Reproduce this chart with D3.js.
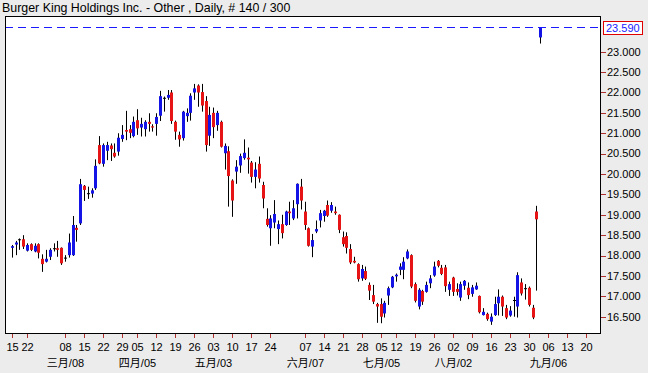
<!DOCTYPE html>
<html>
<head>
<meta charset="utf-8">
<script src="https://cdn.jsdelivr.net/npm/d3@7"></script>
<style>
  body { margin: 0; background: #ececec; }
  svg { display: block; font-family: "Liberation Sans", Arial, sans-serif; }
</style>
</head>
<body>
<div id="chart"></div>
<script>
// daily candles, Feb 16 .. Sep 2 2010 (blue = up, red = down)
const opens = [
  18.19, 18.27, 18.40, 18.40, 18.12, 18.28, 18.10, 18.28, 17.92, 17.85,
  17.97, 18.18, 18.18, 18.19, 17.95, 18.01, 18.01, 18.68, 18.79, 19.71,
  19.53, 19.52, 19.65, 20.71, 20.25, 20.57, 20.70, 20.52, 20.55, 20.86,
  21.08, 21.10, 20.93, 21.32, 21.14, 21.10, 21.28, 21.17, 21.23, 21.43,
  21.87, 21.87, 22.00, 21.28, 20.96, 20.88, 21.42, 21.50, 22.00, 22.17,
  22.01, 21.79, 20.94, 21.50, 21.20, 21.28, 20.51, 20.56, 19.84, 20.06,
  20.21, 20.39, 20.40, 20.28, 19.93, 20.25, 19.73, 18.90, 18.67, 18.81,
  18.65, 18.77, 18.75, 19.08, 18.91, 19.26, 19.69, 19.08, 18.67, 18.22,
  18.59, 18.86, 18.97, 19.24, 19.10, 19.08, 19.00, 18.45, 18.48, 18.16,
  17.87, 17.79, 17.44, 17.62, 17.28, 17.03, 16.81, 16.81, 16.58, 17.02,
  17.22, 17.49, 17.65, 17.65, 17.93, 18.01, 17.30, 16.75, 17.13, 17.11,
  17.32, 17.51, 17.87, 17.70, 17.71, 17.16, 17.46, 17.18, 16.97, 17.26,
  17.21, 17.06, 17.17, 17.01, 16.54, 16.57, 16.38, 16.54, 16.83, 16.99,
  16.71, 16.53, 16.91, 16.75, 17.34, 17.20, 17.21, 16.72, 19.08, 23.35
]
const highs = [
  18.26, 18.36, 18.42, 18.50, 18.30, 18.30, 18.30, 18.30, 18.03, 18.14,
  18.18, 18.30, 18.36, 18.20, 18.01, 18.54, 18.97, 18.75, 19.88, 19.73,
  19.69, 19.65, 20.36, 20.93, 20.75, 20.79, 20.75, 20.75, 21.00, 21.20,
  21.55, 21.20, 21.41, 21.59, 21.38, 21.32, 21.49, 21.22, 21.49, 22.04,
  21.90, 22.06, 22.06, 21.31, 21.04, 21.55, 21.61, 21.98, 22.21, 22.20,
  22.21, 21.91, 21.65, 21.63, 21.55, 21.31, 20.75, 20.68, 19.87, 20.34,
  20.50, 20.85, 20.65, 20.32, 20.29, 20.43, 19.81, 19.16, 18.99, 19.36,
  18.86, 19.00, 19.10, 19.32, 19.36, 19.77, 19.88, 19.32, 18.69, 18.53,
  18.86, 19.12, 19.12, 19.35, 19.31, 19.20, 19.01, 18.59, 18.57, 18.28,
  17.97, 17.81, 17.77, 17.73, 17.34, 17.28, 16.84, 16.95, 16.89, 17.24,
  17.50, 17.56, 17.81, 17.96, 18.15, 18.03, 17.34, 17.20, 17.16, 17.36,
  17.52, 17.85, 17.89, 17.77, 17.77, 17.36, 17.48, 17.32, 17.36, 17.40,
  17.34, 17.28, 17.34, 17.02, 16.71, 16.60, 16.58, 16.99, 17.17, 17.02,
  16.79, 16.76, 16.99, 17.59, 17.44, 17.30, 17.24, 16.79, 19.22, 23.59
]
const lows = [
  17.95, 18.01, 18.14, 18.16, 18.10, 18.11, 18.08, 17.93, 17.60, 17.83,
  17.89, 18.10, 17.97, 17.77, 17.85, 17.95, 17.99, 18.34, 18.75, 19.34,
  19.39, 19.42, 19.61, 20.24, 20.18, 20.34, 20.32, 20.40, 20.45, 20.79,
  20.83, 20.88, 20.90, 20.96, 20.92, 20.92, 21.04, 21.04, 20.94, 21.30,
  21.53, 21.82, 21.23, 20.84, 20.67, 20.82, 21.28, 21.31, 21.82, 21.65,
  21.53, 20.55, 20.69, 20.88, 21.06, 20.65, 20.11, 19.20, 18.95, 19.76,
  20.03, 20.35, 20.01, 19.79, 19.65, 19.79, 19.16, 18.71, 18.24, 18.67,
  18.28, 18.42, 18.73, 18.75, 18.87, 18.91, 19.13, 18.63, 18.22, 17.96,
  18.55, 18.69, 18.83, 18.95, 19.05, 19.00, 18.55, 18.22, 18.05, 17.79,
  17.81, 17.36, 17.38, 17.40, 16.91, 16.81, 16.35, 16.34, 16.48, 16.79,
  17.20, 17.36, 17.52, 17.42, 17.91, 17.20, 16.85, 16.68, 16.79, 17.09,
  17.20, 17.48, 17.71, 17.52, 17.11, 17.01, 17.01, 17.02, 16.89, 17.16,
  16.93, 16.99, 17.16, 16.58, 16.53, 16.40, 16.30, 16.52, 16.53, 16.52,
  16.44, 16.50, 16.50, 16.48, 17.02, 16.92, 16.75, 16.44, 17.14, 23.20
]
const closes = [
  18.23, 18.32, 18.40, 18.22, 18.26, 18.14, 18.24, 18.07, 17.79, 17.92,
  18.14, 18.18, 18.14, 17.81, 17.95, 18.32, 18.75, 18.63, 19.75, 19.61,
  19.53, 19.60, 20.20, 20.26, 20.71, 20.71, 20.61, 20.43, 20.89, 20.96,
  21.04, 21.01, 21.28, 21.12, 21.23, 21.28, 21.23, 21.14, 21.40, 21.91,
  21.87, 21.94, 21.30, 21.04, 20.85, 21.53, 21.50, 21.92, 22.10, 22.00,
  21.68, 20.71, 21.45, 21.15, 21.50, 20.67, 20.69, 19.95, 19.35, 20.18,
  20.44, 20.52, 20.36, 19.93, 20.11, 19.89, 19.40, 18.75, 18.91, 19.02,
  18.77, 18.55, 19.08, 19.04, 19.16, 19.76, 19.35, 18.75, 18.24, 18.38,
  18.65, 19.04, 19.10, 18.98, 19.24, 19.04, 18.63, 18.28, 18.19, 17.83,
  17.83, 17.42, 17.67, 17.43, 17.14, 16.87, 16.75, 16.50, 16.84, 17.20,
  17.48, 17.53, 17.73, 17.85, 18.10, 17.24, 16.89, 17.16, 16.87, 17.28,
  17.44, 17.73, 17.75, 17.55, 17.25, 17.30, 17.11, 17.11, 17.30, 17.38,
  17.03, 17.22, 17.26, 16.61, 16.62, 16.44, 16.50, 16.81, 16.99, 16.75,
  16.48, 16.65, 16.91, 17.52, 17.07, 17.20, 16.79, 16.48, 18.89, 23.59
]
const firstDay = "2010-02-16"
const holidays = ["2010-04-02", "2010-05-31", "2010-07-05"]
// Monday of each labelled week
const weekTicks = [
  "2010-02-15", "2010-02-22", "2010-03-08", "2010-03-15", "2010-03-22", "2010-03-29",
  "2010-04-05", "2010-04-12", "2010-04-19", "2010-04-26", "2010-05-03", "2010-05-10",
  "2010-05-17", "2010-05-24", "2010-06-07", "2010-06-14", "2010-06-21", "2010-06-28",
  "2010-07-05", "2010-07-12", "2010-07-19", "2010-07-26", "2010-08-02", "2010-08-09",
  "2010-08-16", "2010-08-23", "2010-08-30", "2010-09-06", "2010-09-13", "2010-09-20"
]
const monthLabels = ["三月/08", "四月/05", "五月/03", "六月/07", "七月/05", "八月/02", "九月/06"]
const monthTicks = ["2010-03-08", "2010-04-05", "2010-05-03", "2010-06-07", "2010-07-05", "2010-08-02", "2010-09-06"]
const yTicks = [16.5, 17, 17.5, 18, 18.5, 19, 19.5, 20, 20.5, 21, 21.5, 22, 22.5, 23]
const lastPrice = 23.59
const title = "Burger King Holdings Inc. - Other , Daily, # 140 / 300"

let width = 648, height = 373
let m = {left: 5, right: 601, top: 16, bottom: 334}

let parse = d3.timeParse("%Y-%m-%d")
let fmt = d3.timeFormat("%Y-%m-%d")
let holidaySet = new Set(holidays)

// trading days for the bars, then plain weekdays for the empty space on the right
let days = d3.timeDay.range(parse(firstDay), parse("2010-10-01"))
  .filter(d => d.getDay() != 0 && d.getDay() != 6)
let dates = []
days.forEach(d => {
  if (dates.length < opens.length && holidaySet.has(fmt(d))) return
  dates.push(d)
})
let data = opens.map((o, i) => ({date: dates[i], o: o, h: highs[i], l: lows[i], c: closes[i]}))

let dayIndex = s => d3.bisector(d => d).left(dates, parse(s))

let x = d3.scaleLinear().domain([-1.8, 155]).range([m.left, m.right])
let y = d3.scaleLinear().domain([16.076, 23.876]).range([m.bottom, m.top])

let svg = d3.select("#chart").append("svg")
  .attr("width", width)
  .attr("height", height)

svg.append("rect")
  .attr("width", width).attr("height", height)
  .attr("fill", "#ececec")

svg.append("text")
  .attr("x", 2).attr("y", 12)
  .style("font-size", "12.4px")
  .attr("fill", "#000")
  .text(title)

svg.append("rect")
  .attr("x", m.left).attr("y", m.top)
  .attr("width", m.right - m.left).attr("height", m.bottom - m.top)
  .attr("fill", "#fff")

// candles
let cx = i => Math.round(x(i)) + 0.5
let candle = svg.append("g").selectAll("g")
  .data(data)
  .enter().append("g")

candle.append("line")
  .attr("x1", (d, i) => cx(i)).attr("x2", (d, i) => cx(i))
  .attr("y1", d => y(d.h)).attr("y2", d => y(d.l))
  .attr("stroke", "#000")
  .attr("stroke-width", 1)

candle.append("rect")
  .attr("x", (d, i) => cx(i) - 1.5)
  .attr("width", 3)
  .attr("y", d => y(Math.max(d.o, d.c)))
  .attr("height", d => Math.max(1, Math.abs(y(d.o) - y(d.c))))
  .attr("fill", d => d.c > d.o ? "#1414e6" : d.c < d.o ? "#e61414" : "#000")

// last price line
let ly = Math.round(y(lastPrice)) - 1
svg.append("line")
  .attr("x1", m.left).attr("x2", m.right)
  .attr("y1", ly + 0.5).attr("y2", ly + 0.5)
  .attr("stroke", "#1a1aff")
  .attr("stroke-dasharray", "8,5")

// frame
svg.append("rect")
  .attr("x", m.left + 0.5).attr("y", m.top + 0.5)
  .attr("width", m.right - m.left - 1).attr("height", m.bottom - m.top - 1)
  .attr("fill", "none")
  .attr("stroke", "#000")

// y axis on the right
let yAxis = svg.append("g").attr("class", "axis")
yAxis.selectAll("line")
  .data(yTicks)
  .enter().append("line")
  .attr("x1", m.right).attr("x2", m.right + 5)
  .attr("y1", d => Math.round(y(d)) + 0.5).attr("y2", d => Math.round(y(d)) + 0.5)
  .attr("stroke", "#b03030")
yAxis.selectAll("text")
  .data(yTicks)
  .enter().append("text")
  .attr("x", m.right + 6)
  .attr("y", d => y(d))
  .attr("dy", "0.35em")
  .style("font-size", "11px")
  .attr("fill", "#000")
  .text(d => d3.format(".3f")(d))

svg.append("rect")
  .attr("x", m.right + 2.5).attr("y", ly - 5.5)
  .attr("width", 39).attr("height", 13)
  .attr("fill", "#fff")
  .attr("stroke", "#e00000")
svg.append("text")
  .attr("x", m.right + 5).attr("y", ly + 1)
  .attr("dy", "0.35em")
  .style("font-size", "11px")
  .attr("fill", "#1a1aff")
  .text(d3.format(".3f")(lastPrice))

// x axis: weekly ticks and month labels
let xAxis = svg.append("g").attr("class", "axis")
xAxis.selectAll("line")
  .data(weekTicks)
  .enter().append("line")
  .attr("x1", d => cx(dayIndex(d))).attr("x2", d => cx(dayIndex(d)))
  .attr("y1", m.bottom).attr("y2", m.bottom + 4)
  .attr("stroke", "#b03030")
xAxis.selectAll("text")
  .data(weekTicks)
  .enter().append("text")
  .attr("x", d => cx(dayIndex(d)))
  .attr("y", m.bottom + 17)
  .attr("text-anchor", "middle")
  .style("font-size", "11px")
  .attr("fill", "#000")
  .text(d => d.slice(8))

svg.append("g").selectAll("text")
  .data(monthLabels)
  .enter().append("text")
  .attr("x", (d, i) => cx(dayIndex(monthTicks[i])))
  .attr("y", m.bottom + 33)
  .attr("text-anchor", "middle")
  .style("font-size", "11px")
  .style("font-family", "'Liberation Sans', 'Noto Sans CJK SC', sans-serif")
  .attr("fill", "#000")
  .text(d => d)
</script>
</body>
</html>
